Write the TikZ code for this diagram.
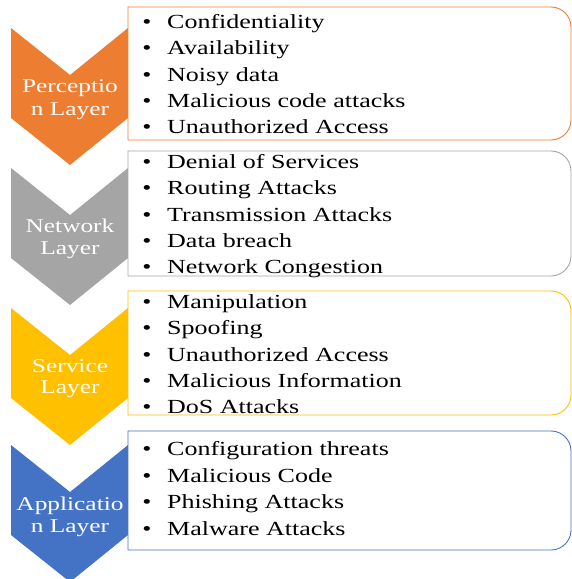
\documentclass[tikz,border=0pt]{standalone}
\usepackage{fontspec}
\setmainfont{Liberation Serif}[FakeStretch=1.3]
\definecolor{corange}{HTML}{ED7D31}
\definecolor{cgray}{HTML}{A5A5A5}
\definecolor{cyellow}{HTML}{FFC000}
\definecolor{cblue}{HTML}{4472C4}
\tikzset{
  chev/.style={fill=#1, draw=none},
  listbox/.style={draw=#1, line width=0.9pt, fill=white},
  lbl/.style={anchor=base, inner sep=0pt, text=white, font=\fontsize{19.5}{23}\selectfont},
  bul/.style={anchor=base, inner sep=0pt, font=\fontsize{20}{26}\selectfont},
  item/.style={anchor=base west, inner sep=0pt, font=\fontsize{20}{26}\selectfont},
}
\newcommand\chevronshape[2]{%
  \fill[chev=#2] (11,-#1) -- (70,{-(#1+47)}) -- (128,-#1) -- (128,{-(#1+90)}) -- (70,{-(#1+137)}) -- (11,{-(#1+90)}) -- cycle;}
\newcommand\roundbox[3]{%
  \draw[listbox=#3] (128,-#1) -- (551,-#1) arc[start angle=90,end angle=0,radius=20] -- (571,{-(#2-20)}) arc[start angle=0,end angle=-90,radius=20] -- (128,-#2) -- cycle;}
\begin{document}
\begin{tikzpicture}[x=1pt,y=1pt]
\useasboundingbox (0,0) rectangle (572,-579);
% chevrons
\chevronshape{28}{corange}
\chevronshape{168}{cgray}
\chevronshape{308}{cyellow}
\chevronshape{445}{cblue}
% boxes
\roundbox{7}{140}{corange}
\roundbox{151}{276}{cgray}
\roundbox{291}{415}{cyellow}
\roundbox{431}{550}{cblue}
% labels
\node[lbl] (p1) at (70,-92) {Perceptio};
\node[lbl] (p2) at (70,-115) {n Layer};
\node[lbl] (n1) at (70,-232) {Network};
\node[lbl] (n2) at (70,-254) {Layer};
\node[lbl] (s1) at (70,-372) {Service};
\node[lbl] (s2) at (70,-393) {Layer};
\node[lbl] (a1) at (70,-510) {Applicatio};
\node[lbl] (a2) at (70,-532) {n Layer};
% items
\foreach \y/\t [count=\i] in {28/Confidentiality,54/Availability,81/Noisy data,107/Malicious code attacks,133/Unauthorized Access,
  168/Denial of Services,194/Routing Attacks,221/Transmission Attacks,247/Data breach,273/Network Congestion,
  308/Manipulation,334/Spoofing,361/Unauthorized Access,387/Malicious Information,413/DoS Attacks,
  455/Configuration threats,482/Malicious Code,508/Phishing Attacks,535/Malware Attacks}{
  \node[bul] (b\i) at (147,-\y) {•};
  \node[item] (t\i) at (167,-\y) {\t};
}
\end{tikzpicture}
\end{document}
